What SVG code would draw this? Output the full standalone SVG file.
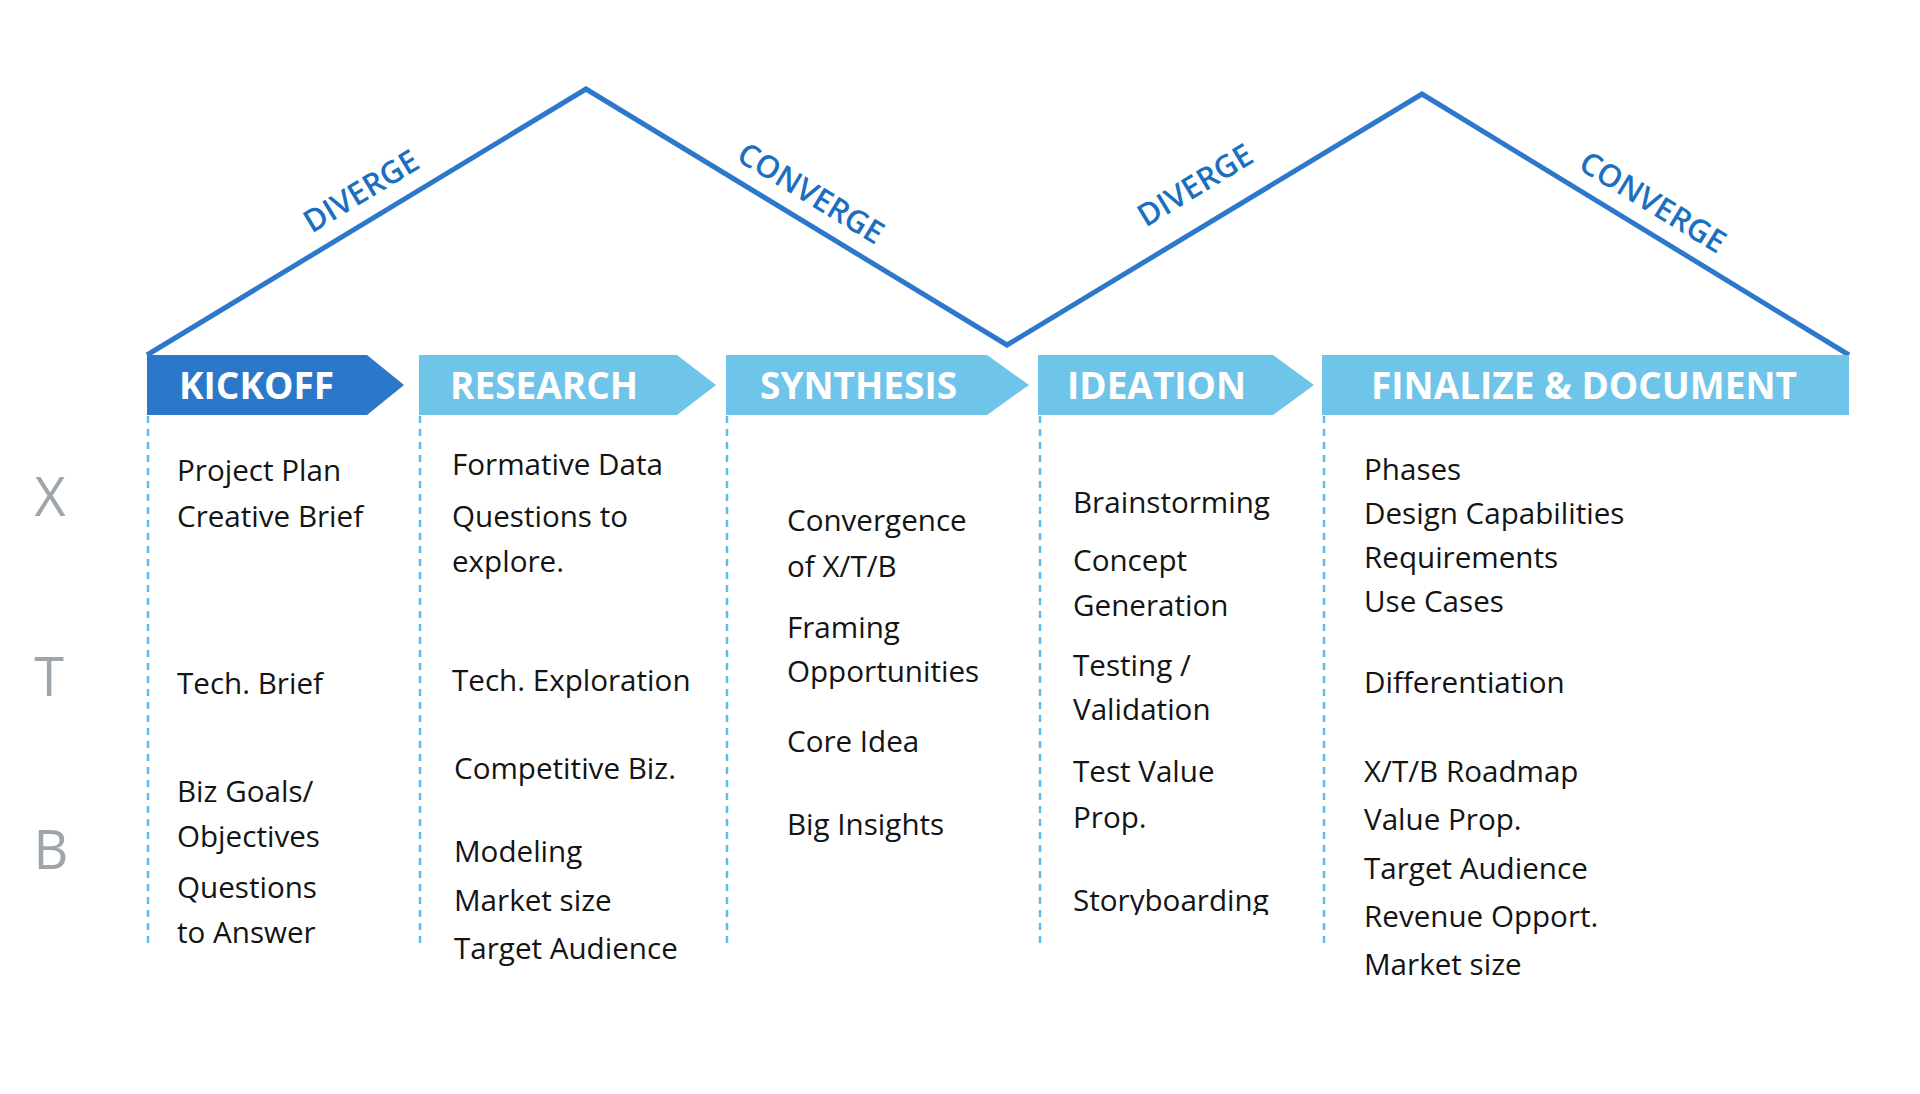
<svg xmlns="http://www.w3.org/2000/svg" width="1920" height="1094" viewBox="0 0 1920 1094">
<style>
.phase{font-family:"Open Sans","Liberation Sans",sans-serif;font-weight:700;font-size:37px;fill:#ffffff}
.dc{font-family:"Open Sans","Liberation Sans",sans-serif;font-weight:600;font-size:31px;fill:#1a6fc0;text-anchor:middle}
.row{font-family:"Open Sans","Liberation Sans",sans-serif;font-weight:400;font-size:54px;fill:#9ea6ab;text-anchor:middle}
.item{font-family:"Open Sans","Liberation Sans",sans-serif;font-weight:400;font-size:29.6px;fill:#141414}
.sep{stroke:#5cbde9;stroke-width:2.5;stroke-dasharray:7 6;fill:none}
.dark{fill:#2b77c9}
.light{fill:#6fc4e9}
</style>
<defs>
<clipPath id="cutStory"><rect x="1060" y="870" width="300" height="45"/></clipPath>
</defs>
<rect width="1920" height="1094" fill="#ffffff"/>
<g id="connectors">
<polyline points="147,355 586,89 1007,345 1422,94 1849,355" fill="none" stroke="#2d78cb" stroke-width="5" stroke-linejoin="miter"/>
<line class="sep" x1="148" y1="416" x2="148" y2="943"/>
<line class="sep" x1="420" y1="416" x2="420" y2="943"/>
<line class="sep" x1="727" y1="416" x2="727" y2="943"/>
<line class="sep" x1="1040" y1="416" x2="1040" y2="943"/>
<line class="sep" x1="1324" y1="416" x2="1324" y2="943"/>
</g>
<g id="labels">
<text class="dc" transform="translate(361,191) rotate(-31.2)" y="11">DIVERGE</text>
<text class="dc" transform="translate(811,193) rotate(31.3)" y="11">CONVERGE</text>
<text class="dc" transform="translate(1195,185) rotate(-31.2)" y="11">DIVERGE</text>
<text class="dc" transform="translate(1653,202) rotate(31.4)" y="11">CONVERGE</text>
</g>
<g id="rows">
<text class="row" x="50" y="516">X</text>
<text class="row" x="49" y="696">T</text>
<text class="row" x="51" y="869">B</text>
</g>
<g id="kickoff">
<polygon class="dark" points="147,355 367,355 404,385 367,415 147,415"/>
<text class="phase" x="179" y="399">KICKOFF</text>
<text class="item" x="177" y="481">Project Plan</text>
<text class="item" x="177" y="527">Creative Brief</text>
<text class="item" x="177" y="694">Tech. Brief</text>
<text class="item" x="177" y="802">Biz Goals/</text>
<text class="item" x="177" y="847">Objectives</text>
<text class="item" x="177" y="898">Questions</text>
<text class="item" x="177" y="943">to Answer</text>
</g>
<g id="research">
<polygon class="light" points="419,355 677,355 716,385 677,415 419,415"/>
<text class="phase" x="450" y="399">RESEARCH</text>
<text class="item" x="452" y="475">Formative Data</text>
<text class="item" x="452" y="527">Questions to</text>
<text class="item" x="452" y="572">explore.</text>
<text class="item" x="452" y="691">Tech. Exploration</text>
<text class="item" x="454" y="779">Competitive Biz.</text>
<text class="item" x="454" y="862">Modeling</text>
<text class="item" x="454" y="911">Market size</text>
<text class="item" x="454" y="959">Target Audience</text>
</g>
<g id="synthesis">
<polygon class="light" points="726,355 987,355 1029,385 987,415 726,415"/>
<text class="phase" x="760" y="399">SYNTHESIS</text>
<text class="item" x="787" y="531">Convergence</text>
<text class="item" x="787" y="577">of X/T/B</text>
<text class="item" x="787" y="638">Framing</text>
<text class="item" x="787" y="682">Opportunities</text>
<text class="item" x="787" y="752">Core Idea</text>
<text class="item" x="787" y="835">Big Insights</text>
</g>
<g id="ideation">
<polygon class="light" points="1038,355 1273,355 1314,385 1273,415 1038,415"/>
<text class="phase" x="1067" y="399">IDEATION</text>
<text class="item" x="1073" y="513">Brainstorming</text>
<text class="item" x="1073" y="571">Concept</text>
<text class="item" x="1073" y="616">Generation</text>
<text class="item" x="1073" y="676">Testing /</text>
<text class="item" x="1073" y="720">Validation</text>
<text class="item" x="1073" y="782">Test Value</text>
<text class="item" x="1073" y="828">Prop.</text>
<text class="item" x="1073" y="911" clip-path="url(#cutStory)">Storyboarding</text>
</g>
<g id="finalize">
<rect class="light" x="1322" y="355" width="527" height="60"/>
<text class="phase" x="1371" y="399">FINALIZE &amp; DOCUMENT</text>
<text class="item" x="1364" y="480">Phases</text>
<text class="item" x="1364" y="524">Design Capabilities</text>
<text class="item" x="1364" y="568">Requirements</text>
<text class="item" x="1364" y="612">Use Cases</text>
<text class="item" x="1364" y="693">Differentiation</text>
<text class="item" x="1364" y="782">X/T/B Roadmap</text>
<text class="item" x="1364" y="830">Value Prop.</text>
<text class="item" x="1364" y="879">Target Audience</text>
<text class="item" x="1364" y="927">Revenue Opport.</text>
<text class="item" x="1364" y="975">Market size</text>
</g>
</svg>
